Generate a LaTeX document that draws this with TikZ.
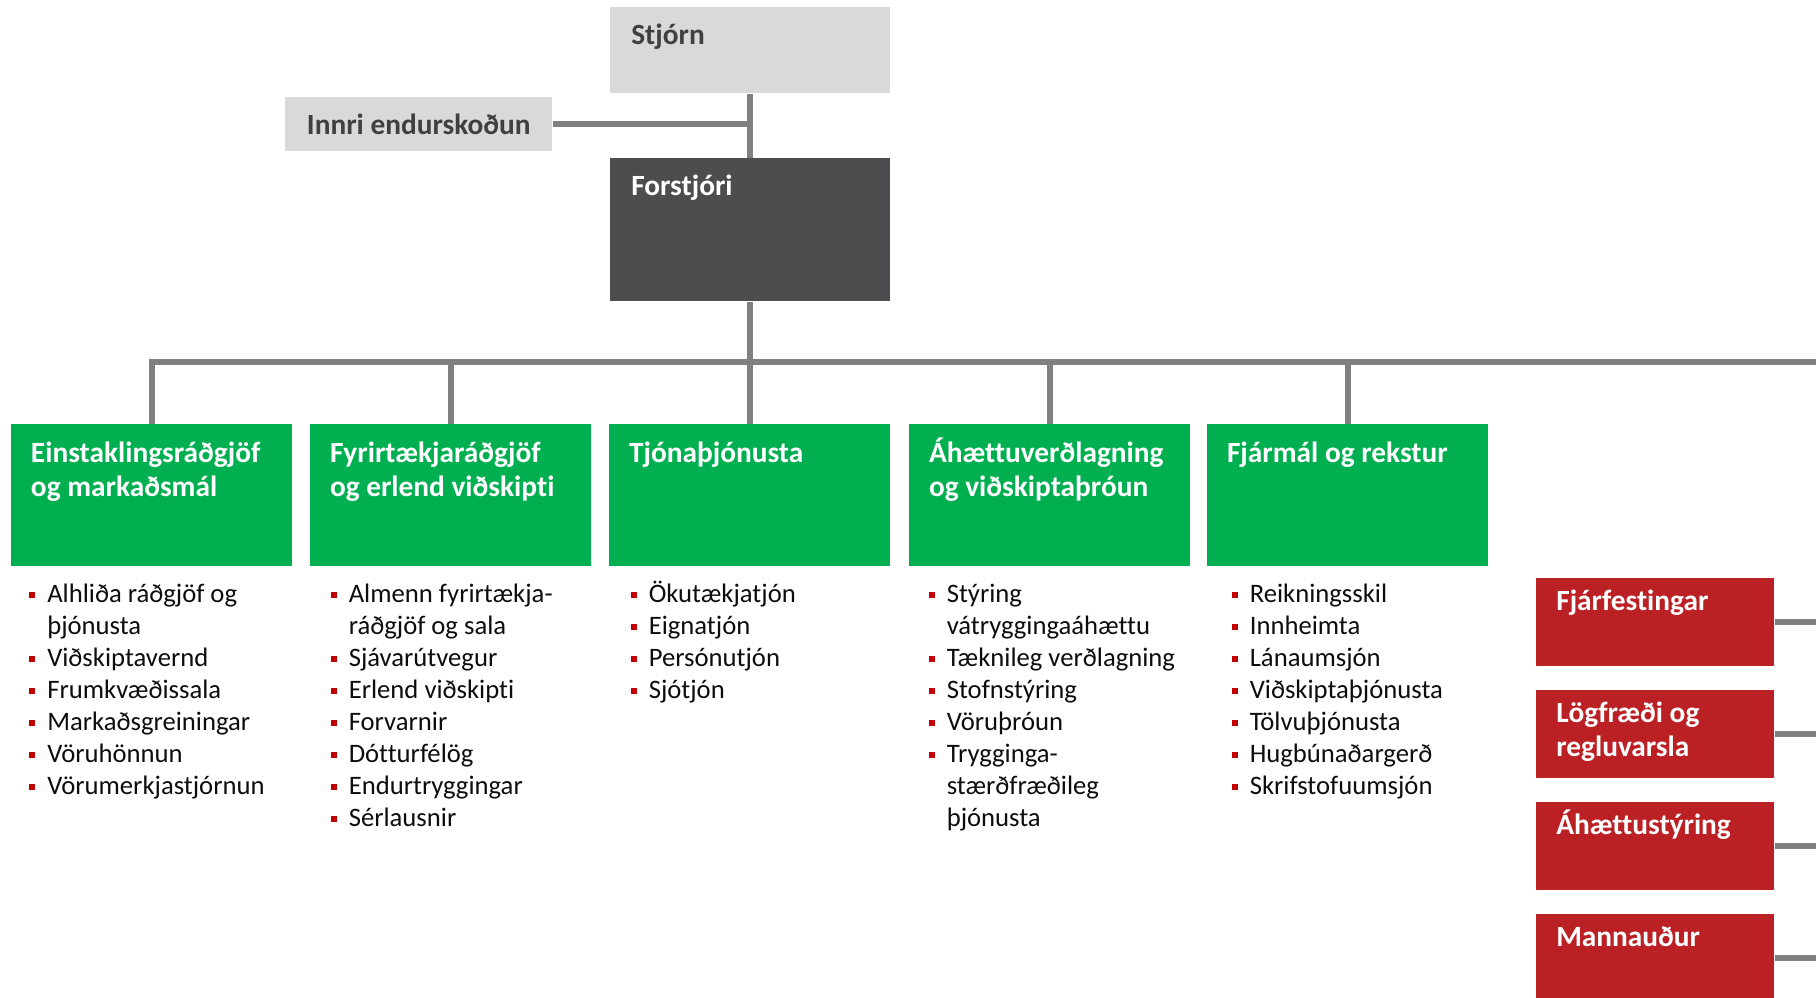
\documentclass[tikz,border=0pt]{standalone}
\usepackage{fontspec}
\setmainfont{Carlito}[Ligatures={TeX,NoCommon}]
\definecolor{boardgrey}{HTML}{D9D9D9}
\definecolor{ceogrey}{HTML}{4D4D4F}
\definecolor{divgreen}{HTML}{00B050}
\definecolor{staffred}{HTML}{BB2124}
\definecolor{linegrey}{HTML}{808080}
\definecolor{bulletred}{HTML}{C00000}
\definecolor{greytext}{HTML}{404040}
\definecolor{listtext}{HTML}{0D0D0D}
\newcommand{\headfont}{\fontsize{22}{26}\selectfont\bfseries}
\newcommand{\listfont}{\fontsize{20}{24}\selectfont}
\newcommand{\topstrut}{\rule{0pt}{24pt}}
\newcommand{\blt}{\llap{\textcolor{bulletred}{\rule[3.4pt]{4.5pt}{4.5pt}}\hspace{9.2pt}}}

\begin{document}
\begin{tikzpicture}[x=0.75pt, y=-0.75pt,
    conn/.style={draw=linegrey, line width=4.2pt},
    box/.style={rectangle, anchor=north west, inner sep=0pt},
    head/.style={anchor=north west, align=left, inner sep=0pt, text=white, font=\headfont},
    greybox/.style={box, fill=boardgrey, minimum width=210pt, minimum height=64.5pt,
        label={[head, text=greytext, xshift=15.75pt, yshift=-3.75pt]north west:{\topstrut#1}}},
    ceobox/.style={box, fill=ceogrey, minimum width=210pt, minimum height=107.25pt,
        label={[head, xshift=15.75pt, yshift=-3.75pt]north west:{\topstrut#1}}},
    greenbox/.style={box, fill=divgreen, minimum width=210.75pt, minimum height=106.5pt,
        label={[head, xshift=14.8pt, yshift=-4.3pt]north west:{\topstrut#1}}},
    redbox/.style={box, fill=staffred, minimum width=178.5pt, minimum height=66pt,
        label={[head, xshift=15pt]north west:{\topstrut#1}}},
    list/.style={anchor=north west, align=left, inner sep=0pt, text=listtext, font=\listfont}]
    \useasboundingbox (0,0) rectangle (1816,998);

    \node[greybox=Stjórn] (stjorn) at (610,7) {};
    \node[ceobox=Forstjóri] (forstj) at (610,158) {};
    \node[box, fill=boardgrey, minimum width=200.25pt, minimum height=40.5pt,
        text=greytext, font=\headfont] (innri) at (285,97) {Innri endurskoðun};

    \node[greenbox={Einstaklingsráðgjöf\\og markaðsmál}] (ein) at (11,424) {};
    \node[greenbox={Fyrirtækjaráðgjöf\\og erlend viðskipti}] (fyr) at (310,424) {};
    \node[greenbox=Tjónaþjónusta] (tjon) at (609,424) {};
    \node[greenbox={Áhættuverðlagning\\og viðskiptaþróun}] (ahv) at (909,424) {};
    \node[greenbox={Fjármál og rekstur}] (fjarm) at (1207,424) {};

    \node[list] (ein-l) at (47,570) {\topstrut\blt Alhliða ráðgjöf og\\þjónusta\\\blt Viðskiptavernd\\\blt Frumkvæðissala\\
        \blt Markaðsgreiningar\\\blt Vöruhönnun\\\blt Vörumerkjastjórnun};
    \node[list] (fyr-l) at (348.5,570) {\topstrut\blt Almenn fyrirtækja-\\ráðgjöf og sala\\\blt Sjávarútvegur\\\blt Erlend viðskipti\\
        \blt Forvarnir\\\blt Dótturfélög\\\blt Endurtryggingar\\\blt Sérlausnir};
    \node[list] (tjon-l) at (648.5,570) {\topstrut\blt Ökutækjatjón\\\blt Eignatjón\\\blt Persónutjón\\\blt Sjótjón};
    \node[list] (ahv-l) at (946.5,570) {\topstrut\blt Stýring\\vátryggingaáhættu\\\blt Tæknileg verðlagning\\\blt Stofnstýring\\
        \blt Vöruþróun\\\blt Trygginga-\\stærðfræðileg\\þjónusta};
    \node[list] (fjarm-l) at (1249.5,570) {\topstrut\blt Reikningsskil\\\blt Innheimta\\\blt Lánaumsjón\\\blt Viðskiptaþjónusta\\
        \blt Tölvuþjónusta\\\blt Hugbúnaðargerð\\\blt Skrifstofuumsjón};

    \node[redbox=Fjárfestingar] (fjarf) at (1536,578) {};
    \node[redbox={Lögfræði og\\regluvarsla}] (logfr) at (1536,690) {};
    \node[redbox=Áhættustýring] (ahst) at (1536,802) {};
    \node[redbox=Mannauður] (mann) at (1536,914) {};

    \coordinate (busend) at (1816,362);
    \draw[conn] (stjorn.south) -- (forstj.north);
    \draw[conn] (innri.east) -- (innri.east -| stjorn.south);
    \draw[conn] (forstj.south) -- (forstj.south |- busend);
    \draw[conn] (ein.north) |- (busend);
    \foreach \n in {fyr,tjon,ahv,fjarm}
        \draw[conn] (\n.north) -- (\n.north |- busend);
    \foreach \n in {fjarf,logfr,ahst,mann}
        \draw[conn] (\n.east) -- (\n.east -| busend);
\end{tikzpicture}
\end{document}
